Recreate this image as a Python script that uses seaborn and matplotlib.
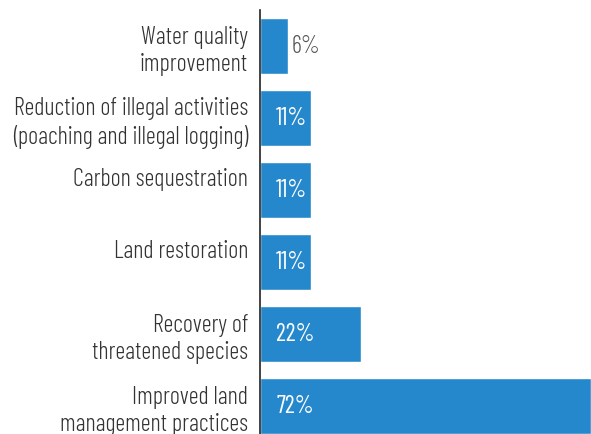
import matplotlib
matplotlib.use("Agg")
import matplotlib.pyplot as plt
import matplotlib.transforms as mtransforms
import seaborn as sns
import pandas as pd

categories = [
    "Water quality\nimprovement",
    "Reduction of illegal activities\n(poaching and illegal logging)",
    "Carbon sequestration",
    "Land restoration",
    "Recovery of\nthreatened species",
    "Improved land\nmanagement practices",
]
values = [6, 11, 11, 11, 22, 72]
value_labels = ["6%", "11%", "11%", "11%", "22%", "72%"]

sns.set_theme(style="white")
plt.rcParams["font.family"] = ["Barlow Condensed", "DejaVu Sans"]

df = pd.DataFrame({"category": categories, "value": values})

fig = plt.figure(figsize=(5.91, 4.34), dpi=100)
ax = fig.add_axes([260 / 591, 0.0, 1 - 260 / 591, 1 - 10 / 434])

sns.barplot(data=df, y="category", x="value", orient="h", color="#2688cc",
            saturation=1, width=0.775, ax=ax)

ax.set_xlim(0, 72)
ax.set_ylim(5.387, -0.5)
ax.set_xlabel("")
ax.set_ylabel("")
ax.set_xticks([])

for s in ["top", "right", "bottom"]:
    ax.spines[s].set_visible(False)
ax.spines["left"].set_color("#222222")
ax.spines["left"].set_linewidth(1.2)

ax.tick_params(axis="y", length=0, pad=8.5, labelsize=17.5, labelcolor="#333333")
# single-line labels sit half a line above the bar centre
lift = mtransforms.ScaledTranslation(0, 13.5 / 100, fig.dpi_scale_trans)
for t in ax.get_yticklabels():
    t.set_linespacing(1.25)
    t.set_fontweight(300)
    if "\n" not in t.get_text():
        t.set_transform(t.get_transform() + lift)

for i, (v, lab) in enumerate(zip(values, value_labels)):
    if v < 8:
        ax.text(v + 0.9, i, lab, va="center", ha="left", fontsize=17.5,
                fontweight=300, color="#555555")
    else:
        ax.text(3.5, i, lab, va="center", ha="left", fontsize=17.5,
                fontweight=400, color="white")

fig.savefig("out.png", dpi=100)
